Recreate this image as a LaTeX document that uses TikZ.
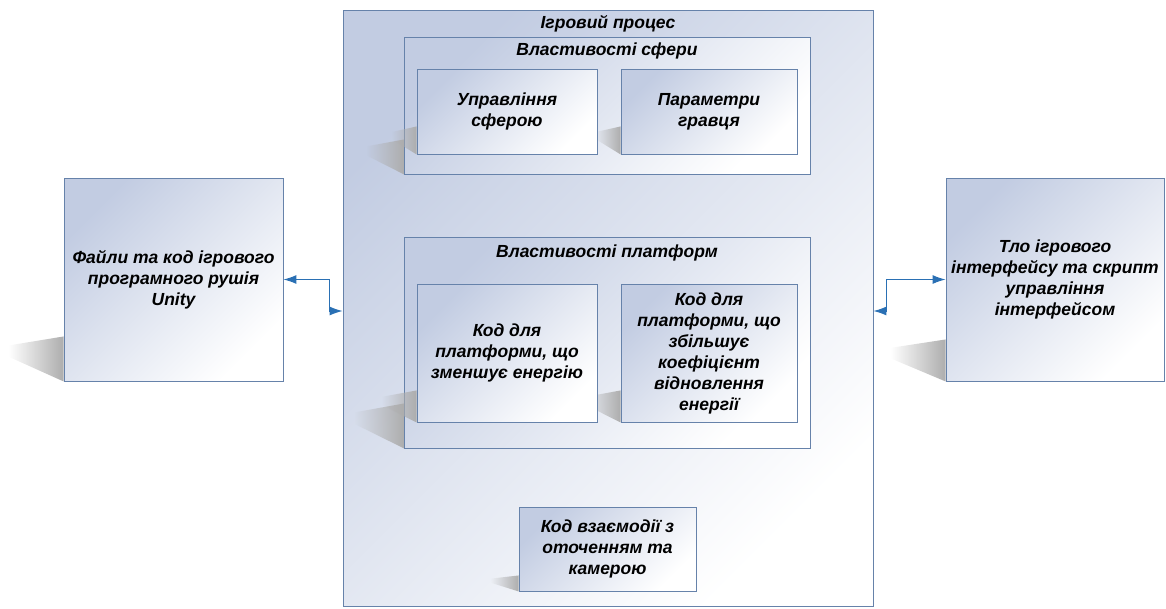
\documentclass[tikz,border=0pt]{standalone}
\usepackage{fontspec}
\setmainfont{Liberation Sans}
\usetikzlibrary{arrows.meta,fadings}

\definecolor{boxfill}{RGB}{194,204,226}
\definecolor{boxline}{RGB}{102,130,170}
\definecolor{linkblue}{RGB}{42,112,180}

\pgfdeclarelayer{outer}
\pgfdeclarelayer{shadeA}
\pgfdeclarelayer{levelA}
\pgfdeclarelayer{shadeB}
\pgfsetlayers{outer,shadeA,levelA,shadeB,main}

\tikzset{
  block/.style={draw=boxline, line width=0.9pt, top color=boxfill, middle color=boxfill!45,
    bottom color=white, shading angle=45, inner sep=0pt},
  boxtext/.style={font=\bfseries\itshape\fontsize{17.5}{21}\selectfont, align=center, text=black},
  link/.style={draw=linkblue, line width=1pt,
    {Latex[length=13pt,width=9pt]}-{Latex[length=13pt,width=9pt]}},
}

% perspective shadow at the lower left corner of a box: node, length, height
\newcommand{\boxshadow}[3]{%
  \fill[black!32, path fading=west] (#1.south west) -- ++(0,-#3) -- ++(-#2,0.2*#3)
    -- ++(0,0.25*#3) -- cycle;}

\begin{document}
\begin{tikzpicture}[x=1pt,y=-1pt]
  \useasboundingbox (0,0) rectangle (1166,608);

  % game process frame
  \begin{pgfonlayer}{outer}
    \node[block, minimum width=530pt, minimum height=596pt] (game) at (608,308) {};
  \end{pgfonlayer}
  \node[boxtext] (gameTitle) at (608,24) {Ігровий процес};

  % groups inside the frame
  \begin{pgfonlayer}{levelA}
    \node[block, minimum width=406pt, minimum height=137pt] (sphere) at (607.5,105.5) {};
    \node[block, minimum width=406pt, minimum height=211pt] (platforms) at (607.5,342.5) {};
    \node[block, boxtext, minimum width=177pt, minimum height=84pt] (env) at (607.5,549)
      {Код взаємодії з\\оточенням та\\камерою};
  \end{pgfonlayer}
  \begin{pgfonlayer}{shadeA}
    \boxshadow{sphere}{38}{35}
    \boxshadow{platforms}{50}{45}
    \boxshadow{env}{28}{16}
  \end{pgfonlayer}
  \node[boxtext] (sphereTitle) at (607,51) {Властивості сфери};
  \node[boxtext] (platTitle) at (607,253) {Властивості платформ};

  % inner blocks
  \node[block, boxtext, minimum width=180pt, minimum height=85pt] (ctrl) at (507,111.5)
    {Управління\\сферою};
  \node[block, boxtext, minimum width=176pt, minimum height=85pt] (params) at (709,111.5)
    {Параметри\\гравця};
  \node[block, boxtext, minimum width=180pt, minimum height=138pt] (dec) at (507,353)
    {Код для\\платформи, що\\зменшує енергію};
  \node[block, boxtext, minimum width=176pt, minimum height=138pt] (inc) at (709,353)
    {Код для\\платформи, що\\збільшує\\коефіцієнт\\відновлення\\енергії};
  \begin{pgfonlayer}{shadeB}
    \boxshadow{ctrl}{25}{28}
    \boxshadow{params}{25}{28}
    \boxshadow{dec}{35}{32}
    \boxshadow{inc}{35}{32}
  \end{pgfonlayer}

  % outer blocks
  \begin{pgfonlayer}{levelA}
    \node[block, boxtext, minimum width=219pt, minimum height=203pt] (engine) at (173.5,279.5)
      {Файли та код ігрового\\програмного рушія\\Unity};
    \node[block, boxtext, minimum width=218pt, minimum height=203pt] (ui) at (1055,279.5)
      {Тло ігрового\\інтерфейсу та скрипт\\управління\\інтерфейсом};
  \end{pgfonlayer}
  \begin{pgfonlayer}{shadeA}
    \boxshadow{engine}{55}{45}
    \boxshadow{ui}{55}{42}
  \end{pgfonlayer}

  % links
  \draw[link] (engine.east) -- ++(46,0) |- ([yshift=-3pt]game.west);
  \draw[link] (ui.west) -- ++(-59,0) |- ([yshift=-3pt]game.east);
\end{tikzpicture}
\end{document}
